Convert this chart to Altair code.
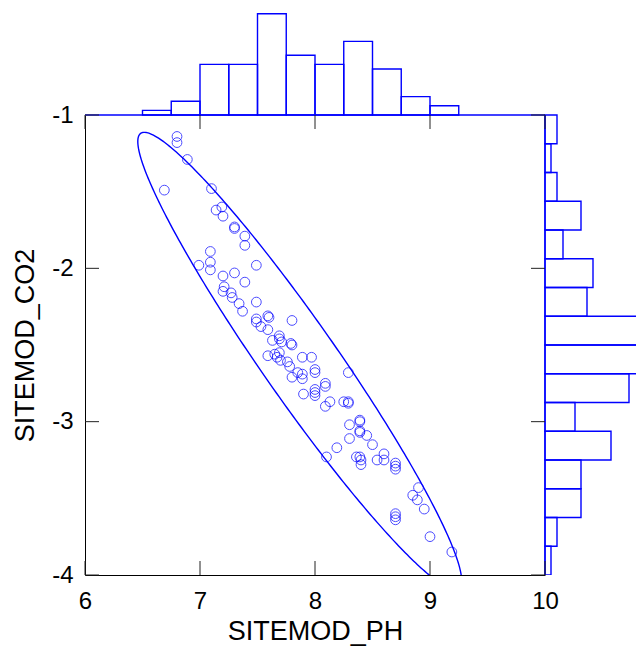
import altair as alt
import numpy as np
import pandas as pd

# ---------------- data ----------------
sitemod_ph = [6.80, 6.80, 6.89, 6.69, 7.10, 7.19, 7.14, 7.20, 7.30, 7.30,
              7.39, 7.39, 7.09, 7.09, 6.99, 7.09, 7.49, 7.30, 7.20, 7.39,
              7.21, 7.20, 7.27, 7.28, 7.34, 7.49, 7.37, 7.49, 7.49, 7.59,
              7.60, 7.53, 7.59, 7.80, 7.69, 7.69, 7.63, 7.71, 7.79, 7.80,
              7.59, 7.65, 7.69, 7.67, 7.70, 7.76, 7.78, 7.89, 7.97, 7.85,
              7.80, 7.89, 7.89, 8.00, 8.00, 8.29, 7.90, 8.00, 8.00, 8.00,
              8.09, 8.09, 8.13, 8.09, 8.25, 8.29, 8.29, 8.39, 8.39, 8.30,
              8.39, 8.39, 8.45, 8.30, 8.50, 8.19, 8.10, 8.36, 8.39, 8.40,
              8.40, 8.54, 8.60, 8.60, 8.70, 8.70, 8.70, 8.90, 8.85, 8.89,
              8.95, 8.70, 8.70, 8.70, 9.00, 9.19]
sitemod_co2 = [-1.14, -1.18, -1.29, -1.49, -1.48, -1.60, -1.62, -1.66, -1.73, -1.74,
               -1.79, -1.85, -1.89, -1.96, -1.98, -2.01, -1.98, -2.03, -2.05, -2.09,
               -2.12, -2.15, -2.16, -2.19, -2.23, -2.22, -2.28, -2.33, -2.35, -2.31,
               -2.32, -2.38, -2.40, -2.34, -2.44, -2.46, -2.47, -2.48, -2.49, -2.50,
               -2.57, -2.56, -2.55, -2.58, -2.60, -2.61, -2.64, -2.58, -2.58, -2.68,
               -2.71, -2.69, -2.72, -2.66, -2.68, -2.68, -2.82, -2.79, -2.81, -2.83,
               -2.75, -2.77, -2.87, -2.90, -2.87, -2.87, -2.88, -2.99, -3.00, -3.02,
               -3.06, -3.07, -3.09, -3.11, -3.15, -3.17, -3.23, -3.23, -3.23, -3.25,
               -3.28, -3.25, -3.21, -3.25, -3.27, -3.29, -3.31, -3.43, -3.48, -3.51,
               -3.57, -3.60, -3.62, -3.64, -3.75, -3.85]

# histogram of SITEMOD_PH (16 bins over 6..10)
ph_bin_edges = [6.0, 6.25, 6.5, 6.75, 7.0, 7.25, 7.5, 7.75, 8.0,
                8.25, 8.5, 8.75, 9.0, 9.25, 9.5, 9.75, 10.0]
ph_counts = [0, 0, 1, 3, 11, 11, 22, 13, 11, 16, 10, 4, 2, 0, 0, 0]

# histogram of SITEMOD_CO2 (16 bins over -1..-4, listed from top)
co2_bin_edges = [-1.0, -1.1875, -1.375, -1.5625, -1.75, -1.9375, -2.125, -2.3125, -2.5,
                 -2.6875, -2.875, -3.0625, -3.25, -3.4375, -3.625, -3.8125, -4.0]
co2_counts = [2, 1, 2, 6, 3, 8, 7, 17, 16, 14, 5, 11, 6, 6, 2, 1]

# ellipse (center and conjugate half-axes, data units)
ellipse_center = [7.867, -2.604]
ellipse_axis_a = [1.351, -1.491]
ellipse_axis_b = [0.396, 0.0]

x_ticks = [6, 7, 8, 9, 10]
y_ticks = [-1, -2, -3, -4]

# ---------------- layout ----------------
MAIN_W, MAIN_H = 460, 460
TOP_H = 115
RIGHT_W = 91
TOTAL_W = MAIN_W + RIGHT_W
TOTAL_H = TOP_H + MAIN_H
TICK = 14
BLUE = "#0000FF"
FONT = "Liberation Sans"

xs = alt.Scale(domain=[6, 10], range=[0, MAIN_W], nice=False, zero=False)
ys = alt.Scale(domain=[-4, -1], range=[TOTAL_H, TOP_H], nice=False, zero=False)
top_count_scale = alt.Scale(domain=[0, 25], range=[TOP_H, 0], nice=False, zero=False)
right_count_scale = alt.Scale(domain=[0, 20], range=[MAIN_W, MAIN_W + 120], nice=False, zero=False)

pts = pd.DataFrame({"ph": sitemod_ph, "co2": sitemod_co2})

t = np.linspace(0, 2 * np.pi, 361)
ell = pd.DataFrame({
    "t": np.arange(len(t)),
    "ph": ellipse_center[0] + ellipse_axis_a[0] * np.cos(t) + ellipse_axis_b[0] * np.sin(t),
    "co2": ellipse_center[1] + ellipse_axis_a[1] * np.cos(t) + ellipse_axis_b[1] * np.sin(t),
})

top_hist = pd.DataFrame({
    "start": ph_bin_edges[:-1], "end": ph_bin_edges[1:],
    "count": ph_counts, "zero": 0,
})
top_hist = top_hist[top_hist["count"] > 0]

right_hist = pd.DataFrame({
    "top": co2_bin_edges[:-1], "bottom": co2_bin_edges[1:],
    "count": co2_counts, "zero": 0,
})
right_hist = right_hist[right_hist["count"] > 0]

xt = pd.DataFrame({"v": x_ticks})
yt = pd.DataFrame({"v": y_ticks})
frame = pd.DataFrame({"x1": [min(x_ticks)], "x2": [max(x_ticks)],
                      "y1": [min(y_ticks)], "y2": [max(y_ticks)]})

x_axis = alt.Axis(values=x_ticks, ticks=False, tickSize=0, grid=False,
                  labelFontSize=24, labelFont=FONT, labelColor="black",
                  labelPadding=14, labelFlush=False, labelOverlap=False,
                  labelExpr="toString(datum.value)",
                  domainColor="black", domainWidth=1,
                  title="SITEMOD_PH", titleFont=FONT, titleFontSize=27,
                  titleFontWeight="normal", titleColor="black",
                  titleBaseline="alphabetic", titleY=64)
y_axis = alt.Axis(values=y_ticks, ticks=False, tickSize=0, grid=False,
                  labelFontSize=24, labelFont=FONT, labelColor="black",
                  labelPadding=12, labelFlush=False, labelOverlap=False,
                  labelExpr="toString(datum.value)",
                  domainColor="black", domainWidth=1,
                  title="SITEMOD_CO2", titleFont=FONT, titleFontSize=27,
                  titleFontWeight="normal", titleColor="black",
                  titleBaseline="alphabetic", titleX=-52)

top_layer = alt.Chart(top_hist).mark_rect(
    fill="white", fillOpacity=0, stroke=BLUE, strokeWidth=1.4
).encode(
    x=alt.X("start:Q", scale=xs, axis=None),
    x2="end:Q",
    y=alt.Y("count:Q", scale=top_count_scale, axis=None),
    y2="zero:Q",
)

right_layer = alt.Chart(right_hist).mark_rect(
    fill="white", fillOpacity=0, stroke=BLUE, strokeWidth=1.4, clip=True
).encode(
    y=alt.Y("top:Q", scale=ys, axis=None),
    y2="bottom:Q",
    x=alt.X("count:Q", scale=right_count_scale, axis=None),
    x2="zero:Q",
)

ellipse_layer = alt.Chart(ell).mark_line(
    color=BLUE, strokeWidth=1.4, clip=True
).encode(
    x=alt.X("ph:Q", scale=xs, axis=None),
    y=alt.Y("co2:Q", scale=ys, axis=None),
    order="t:Q",
)

points_layer = alt.Chart(pts).mark_point(
    shape="circle", filled=False, color=BLUE, size=95, strokeWidth=1
).encode(
    x=alt.X("ph:Q", scale=xs, axis=x_axis),
    y=alt.Y("co2:Q", scale=ys, axis=y_axis),
)

top_edge = alt.Chart(frame).mark_rule(color=BLUE, strokeWidth=1.4).encode(
    x=alt.X("x1:Q", scale=xs, axis=None), x2="x2:Q",
    y=alt.Y("y2:Q", scale=ys, axis=None),
)
right_edge = alt.Chart(frame).mark_rule(color=BLUE, strokeWidth=1.4).encode(
    x=alt.X("x2:Q", scale=xs, axis=None),
    y=alt.Y("y1:Q", scale=ys, axis=None), y2="y2:Q",
)

tick_color = "#222222"
ticks_bottom = alt.Chart(xt).mark_rule(color=tick_color, strokeWidth=1).encode(
    x=alt.X("v:Q", scale=xs, axis=None),
    y=alt.value(TOTAL_H), y2=alt.value(TOTAL_H - TICK),
)
ticks_top = alt.Chart(xt).mark_rule(color=tick_color, strokeWidth=1).encode(
    x=alt.X("v:Q", scale=xs, axis=None),
    y=alt.value(TOP_H), y2=alt.value(TOP_H + TICK),
)
ticks_left = alt.Chart(yt).mark_rule(color=tick_color, strokeWidth=1).encode(
    y=alt.Y("v:Q", scale=ys, axis=None),
    x=alt.value(0), x2=alt.value(TICK),
)
ticks_right = alt.Chart(yt).mark_rule(color=tick_color, strokeWidth=1).encode(
    y=alt.Y("v:Q", scale=ys, axis=None),
    x=alt.value(MAIN_W), x2=alt.value(MAIN_W - TICK),
)

chart = alt.layer(
    points_layer, ellipse_layer, top_layer, right_layer,
    top_edge, right_edge,
    ticks_bottom, ticks_top, ticks_left, ticks_right,
).resolve_scale(
    x="independent", y="independent"
).properties(
    width=TOTAL_W, height=TOTAL_H,
    autosize=alt.AutoSizeParams(type="none"),
    padding={"left": 85, "top": 0, "right": 0, "bottom": 72},
    background="white",
).configure_view(stroke=None)

chart.save("out.html", embed_options={"renderer": "svg", "actions": False})
